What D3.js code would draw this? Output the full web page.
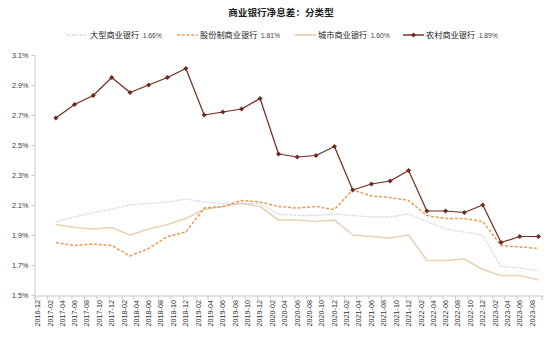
<!DOCTYPE html>
<html>
<head>
<meta charset="utf-8">
<script src="https://cdn.jsdelivr.net/npm/d3@7"></script>
<style>
  html, body { margin: 0; padding: 0; background: #fff; }
  svg { display: block; font-family: "Liberation Sans", Arial, "Noto Sans CJK SC", sans-serif; }
</style>
</head>
<body>
<svg id="chart" width="550" height="338"></svg>
<script>
// Quarterly net interest margin (%) by bank type
const quarters = [
  "2017-03","2017-06","2017-09","2017-12",
  "2018-03","2018-06","2018-09","2018-12",
  "2019-03","2019-06","2019-09","2019-12",
  "2020-03","2020-06","2020-09","2020-12",
  "2021-03","2021-06","2021-09","2021-12",
  "2022-03","2022-06","2022-09","2022-12",
  "2023-03","2023-06","2023-09"
];
const largeBanks = [1.99,2.02,2.05,2.07,2.10,2.11,2.12,2.14,2.12,2.11,2.11,2.11,2.04,2.03,2.03,2.04,2.03,2.02,2.02,2.04,1.99,1.94,1.92,1.90,1.69,1.68,1.66];
const jointStockBanks = [1.85,1.83,1.84,1.83,1.76,1.81,1.89,1.92,2.08,2.09,2.13,2.12,2.09,2.08,2.09,2.07,2.20,2.16,2.15,2.13,2.03,2.01,2.01,1.99,1.83,1.82,1.81];
const cityBanks = [1.97,1.95,1.94,1.95,1.90,1.94,1.97,2.01,2.07,2.09,2.11,2.09,2.00,2.00,1.99,2.00,1.90,1.89,1.88,1.90,1.73,1.73,1.74,1.67,1.63,1.63,1.60];
const ruralBanks = [2.68,2.77,2.83,2.95,2.85,2.90,2.95,3.01,2.70,2.72,2.74,2.81,2.44,2.42,2.43,2.49,2.20,2.24,2.26,2.33,2.06,2.06,2.05,2.10,1.85,1.89,1.89];
const seriesNames = ["大型商业银行","股份制商业银行","城市商业银行","农村商业银行"];
const yTicks = [1.5,1.7,1.9,2.1,2.3,2.5,2.7,2.9,3.1];
const axisStart = "2016-12";
const axisEnd = "2023-10";
const title = "商业银行净息差：分类型";

const parseMonth = d3.timeParse("%Y-%m");
const fmtMonth = d3.timeFormat("%Y-%m");
const midMonth = d => d3.timeDay.offset(d, 15);

const svg = d3.select("#chart");
svg.append("rect").attr("width", 550).attr("height", 338).attr("fill", "#fff");

const x = d3.scaleTime()
  .domain([parseMonth(axisStart), parseMonth(axisEnd)])
  .range([34.5, 541.5]);
const y = d3.scaleLinear().domain([1.5, 3.1]).range([295, 55]);

// Square diamond marker
const squareDiamond = {
  draw(ctx, size) {
    const r = Math.sqrt(size / 2);
    ctx.moveTo(0, -r); ctx.lineTo(r, 0); ctx.lineTo(0, r); ctx.lineTo(-r, 0); ctx.closePath();
  }
};

const styles = [
  { values: largeBanks,      color: "#c9c9d9", width: 1.3, dash: "1.2,1.4" },
  { values: jointStockBanks, color: "#ec9a55", width: 1.5, dash: "3,1.8" },
  { values: cityBanks,       color: "#e8d2b5", width: 1.6, dash: null },
  { values: ruralBanks,      color: "#6e2c1c", width: 1.2, dash: null, marker: true }
];
const legendX = [67, 177, 295, 403];

// Title
svg.append("text")
  .attr("x", 281).attr("y", 16)
  .attr("text-anchor", "middle")
  .attr("font-size", 9.6).attr("font-weight", "bold")
  .attr("fill", "#222")
  .text(title);

// Y axis
const yAxis = svg.append("g")
  .attr("transform", "translate(34.5,0)")
  .call(d3.axisLeft(y).tickValues(yTicks).tickSize(3).tickPadding(3)
    .tickFormat(d => d3.format(".1f")(d) + "%"));
yAxis.selectAll("path, line").attr("stroke", "#c8c8c8");
yAxis.selectAll("text").attr("font-size", 7.2).attr("fill", "#333");

// X axis: ticks every two months, labels centred on the month
const tickDates = d3.timeMonth.range(parseMonth(axisStart), d3.timeMonth.offset(parseMonth(axisEnd), 1), 2);
const xAxis = svg.append("g")
  .attr("transform", "translate(0,295.5)")
  .call(d3.axisBottom(x).tickValues(tickDates).tickSize(4).tickFormat(""));
xAxis.selectAll("path, line").attr("stroke", "#c8c8c8");

const labelDates = tickDates.filter(d => d < parseMonth(axisEnd));
svg.append("g").selectAll("text")
  .data(labelDates)
  .join("text")
  .attr("transform", d => `translate(${x(midMonth(d)) + 2.4},300) rotate(-90)`)
  .attr("text-anchor", "end")
  .attr("font-size", 7.2)
  .attr("fill", "#333")
  .text(d => fmtMonth(d));

// Lines
const line = d3.line()
  .x((d, i) => x(midMonth(parseMonth(quarters[i]))))
  .y(d => y(d));

const plot = svg.append("g");
[2, 0, 1, 3].forEach(k => {
  const s = styles[k];
  plot.append("path")
    .datum(s.values)
    .attr("fill", "none")
    .attr("stroke", s.color)
    .attr("stroke-width", s.width)
    .attr("stroke-dasharray", s.dash)
    .attr("stroke-linejoin", "round")
    .attr("d", line);
  if (s.marker) {
    plot.append("g").selectAll("path")
      .data(s.values)
      .join("path")
      .attr("transform", (d, i) => `translate(${x(midMonth(parseMonth(quarters[i])))},${y(d)})`)
      .attr("d", d3.symbol(squareDiamond, 13))
      .attr("fill", s.color);
  }
});

// Legend
const legend = svg.append("g");
const ly = 35;
styles.forEach((s, k) => {
  const lx = legendX[k];
  legend.append("line")
    .attr("x1", lx).attr("x2", lx + 21)
    .attr("y1", ly).attr("y2", ly)
    .attr("stroke", s.color).attr("stroke-width", s.width + 0.2)
    .attr("stroke-dasharray", s.dash);
  if (s.marker) {
    legend.append("path")
      .attr("transform", `translate(${lx + 10.5},${ly})`)
      .attr("d", d3.symbol(squareDiamond, 13))
      .attr("fill", s.color);
  }
  const t = legend.append("text")
    .attr("x", lx + 23).attr("y", ly + 3)
    .attr("font-size", 8.2).attr("fill", "#222")
    .text(seriesNames[k]);
  const tx = lx + 23 + t.node().getComputedTextLength() + 3.5;
  legend.append("text")
    .attr("x", tx).attr("y", ly + 2.5)
    .attr("font-size", 6.8).attr("fill", "#444")
    .text(d3.format(".2f")(s.values[s.values.length - 1]) + "%");
});
</script>
</body>
</html>
